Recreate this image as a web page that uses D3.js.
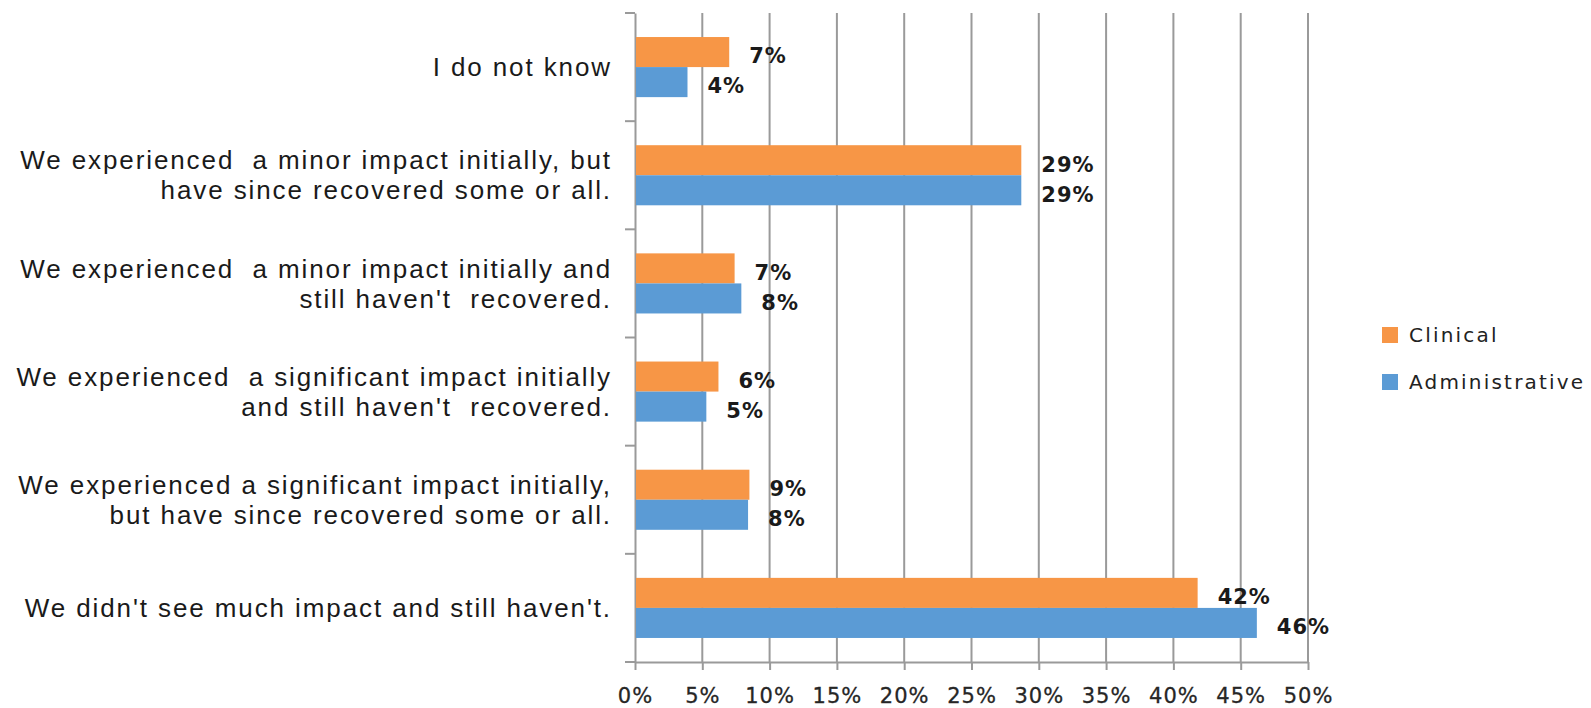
<!DOCTYPE html>
<html><head><meta charset="utf-8">
<script src="https://cdn.jsdelivr.net/npm/d3@7"></script>
<style>body{margin:0;background:#fff}svg{display:block}</style>
</head><body>
<script>
const categories = [
  ["I do not know"],
  ["We experienced  a minor impact initially, but", "have since recovered some or all."],
  ["We experienced  a minor impact initially and", "still haven't  recovered."],
  ["We experienced  a significant impact initially", "and still haven't  recovered."],
  ["We experienced a significant impact initially,", "but have since recovered some or all."],
  ["We didn't see much impact and still haven't."]
];
const seriesNames = ["Clinical", "Administrative"];
const clinicalValues = [7.0, 28.7, 7.4, 6.2, 8.5, 41.8];
const adminValues = [3.9, 28.7, 7.9, 5.3, 8.4, 46.2];
const clinicalLabels = ["7%", "29%", "7%", "6%", "9%", "42%"];
const adminLabels = ["4%", "29%", "8%", "5%", "8%", "46%"];
const xTicks = [0, 5, 10, 15, 20, 25, 30, 35, 40, 45, 50];
const colors = ["#F79646", "#5B9BD5"];

(function(){
const W = 1591, H = 708;
const pLeft = 635, pRight = 1308, pTop = 13, pBottom = 662;
const svg = d3.select("body").append("svg").attr("width", W).attr("height", H);

const x = d3.scaleLinear().domain([0, 50]).range([pLeft, pRight]);
const y = d3.scaleBand().domain(d3.range(categories.length)).range([pTop, pBottom]).paddingInner(0).paddingOuter(0);
const inner = d3.scaleBand().domain([0, 1]).range([0, y.bandwidth()]).paddingInner(0).paddingOuter(0.8);

// gridlines
svg.append("g").selectAll("line").data(xTicks.slice(1)).join("line")
  .attr("x1", d => x(d)).attr("x2", d => x(d)).attr("y1", pTop).attr("y2", pBottom)
  .attr("stroke", "#9a9a9a").attr("stroke-width", 2);

// bottom axis
const xAxis = d3.axisBottom(x).tickValues(xTicks).tickFormat(d => d + "%").tickSize(8).tickSizeOuter(0);
const gx = svg.append("g").attr("transform", `translate(0,${pBottom})`).call(xAxis);
gx.select(".domain").attr("stroke", "#9a9a9a").attr("stroke-width", 2);
gx.selectAll(".tick line").attr("stroke", "#9a9a9a").attr("stroke-width", 2);
gx.selectAll(".tick text").attr("y", 26).attr("dy", "0.71em")
  .attr("font-family", "DejaVu Sans").attr("font-size", 21).attr("fill", "#262626").attr("letter-spacing", 1)
  .attr("stroke", "#262626").attr("stroke-width", 0.3);

// left axis
const yAxis = d3.axisLeft(y).tickValues([]).tickSizeOuter(0);
const gy = svg.append("g").attr("transform", `translate(${pLeft},0)`).call(yAxis);
gy.select(".domain").attr("stroke", "#9a9a9a").attr("stroke-width", 2);
svg.append("g").selectAll("line").data(d3.range(categories.length + 1)).join("line")
  .attr("x1", pLeft - 10).attr("x2", pLeft)
  .attr("y1", i => pTop + i * y.bandwidth()).attr("y2", i => pTop + i * y.bandwidth())
  .attr("stroke", "#9a9a9a").attr("stroke-width", 2);

// category labels
const cl = svg.append("g").selectAll("text").data(categories).join("text")
  .attr("text-anchor", "end")
  .attr("font-family", "Liberation Sans").attr("font-size", 26).attr("fill", "#1a1a1a")
  .attr("letter-spacing", 1.9)
  .style("white-space", "pre");
cl.each(function(lines, i) {
  const cy = y(i) + y.bandwidth() / 2;
  const lh = 30;
  d3.select(this).selectAll("tspan").data(lines).join("tspan")
    .attr("x", 612)
    .attr("y", (d, j) => cy + (j - (lines.length - 1) / 2) * lh)
    .attr("dy", "0.35em")
    .text(d => d);
});

// bars
const series = [clinicalValues, adminValues];
const labels = [clinicalLabels, adminLabels];
series.forEach((vals, s) => {
  const g = svg.append("g");
  g.selectAll("rect").data(vals).join("rect")
    .attr("x", x(0) + 1)
    .attr("y", (d, i) => y(i) + inner(s))
    .attr("width", d => x(d) - x(0) - 1)
    .attr("height", inner.bandwidth())
    .attr("fill", colors[s]);
  g.selectAll("text").data(vals).join("text")
    .attr("x", d => x(d) + 20)
    .attr("y", (d, i) => y(i) + inner(s) + inner.bandwidth() / 2 + 4)
    .attr("dy", "0.35em")
    .attr("font-family", "DejaVu Sans").attr("font-weight", "bold").attr("font-size", 21)
    .attr("letter-spacing", 1)
    .attr("fill", "#1a1a1a")
    .text((d, i) => labels[s][i]);
});

// legend
const lg = svg.append("g");
seriesNames.forEach((name, i) => {
  const ly = 335 + i * 47;
  lg.append("rect").attr("x", 1382).attr("y", ly - 8).attr("width", 16).attr("height", 16).attr("fill", colors[i]);
  lg.append("text").attr("x", 1409).attr("y", ly).attr("dy", "0.35em")
    .attr("font-family", "DejaVu Sans").attr("font-size", 20).attr("fill", "#222")
    .attr("letter-spacing", 2.2).text(name);
});
})();
</script>
</body></html>
